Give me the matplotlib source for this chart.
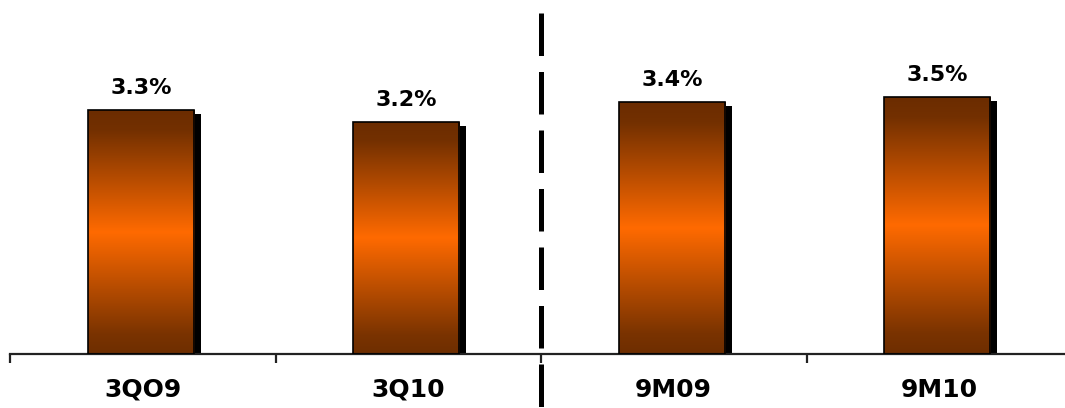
import numpy as np
import matplotlib.pyplot as plt
from matplotlib.colors import LinearSegmentedColormap

# Data
categories = ["3QO9", "3Q10", "9M09", "9M10"]
values = [3.32, 3.16, 3.43, 3.50]
labels = ["3.3%", "3.2%", "3.4%", "3.5%"]

fig = plt.figure(figsize=(10.65, 4.08), dpi=100)
ax = fig.add_axes([10 / 1065, 54 / 408, 1062 / 1065, 354 / 408])

x = np.arange(len(categories)) - 0.007
bar_w = 0.40

ax.set_xlim(-0.5, 3.5)
ax.set_ylim(0, 4.82)

# gradient: dark brown -> orange -> dark brown
cmap = LinearSegmentedColormap.from_list(
    "brown_orange",
    [(0.0, "#6b2c00"), (0.08, "#733000"), (0.5, "#ff6a00"), (0.92, "#7a3300"), (1.0, "#6e2e00")],
)
grad = np.linspace(0, 1, 256).reshape(-1, 1)

# shadows
px_x = 4.0 / 1062
px_y = 4.82 / 354
ax.bar(x + 7 * px_x, [v - 4 * px_y for v in values], bar_w,
       color="black", zorder=1)

bars = ax.bar(x, values, bar_w, facecolor="none", edgecolor="black",
              linewidth=1.2, zorder=3)
for b in bars:
    x0, w, h = b.get_x(), b.get_width(), b.get_height()
    im = ax.imshow(grad, cmap=cmap, aspect="auto", origin="upper",
                   extent=[x0, x0 + w, 0, h], zorder=2)
    im.set_clip_path(b)

ax.set_xlim(-0.5, 3.5)
ax.set_ylim(0, 4.82)

for xi, v, lab in zip(x, values, labels):
    ax.annotate(lab, xy=(xi, v), xytext=(0, 11.5), textcoords="offset points",
                ha="center", va="baseline", fontsize=16, fontweight="bold",
                family="DejaVu Sans", color="black")

# axes styling
for s in ["top", "left", "right"]:
    ax.spines[s].set_visible(False)
ax.spines["bottom"].set_color("#222222")
ax.spines["bottom"].set_linewidth(1.6)
ax.set_yticks([])
ax.set_xticks(np.arange(len(categories)))
ax.set_xticklabels(categories, fontsize=18, fontweight="bold",
                   family="DejaVu Sans", color="black")
ax.tick_params(axis="x", which="major", length=0, pad=17)
ax.set_xticks(np.arange(-0.5, 4.0, 1.0), minor=True)
ax.tick_params(axis="x", which="minor", length=6.5, width=1.6,
               color="#222222", direction="out")

# dashed separator
ax.plot([1.5, 1.5], [(354 - 13) / 354, -54 / 354], color="black",
        linewidth=3.6, linestyle=(0, (8.5, 3.2)),
        transform=ax.get_xaxis_transform(), clip_on=False, zorder=5)

fig.savefig("out.png", dpi=100)
